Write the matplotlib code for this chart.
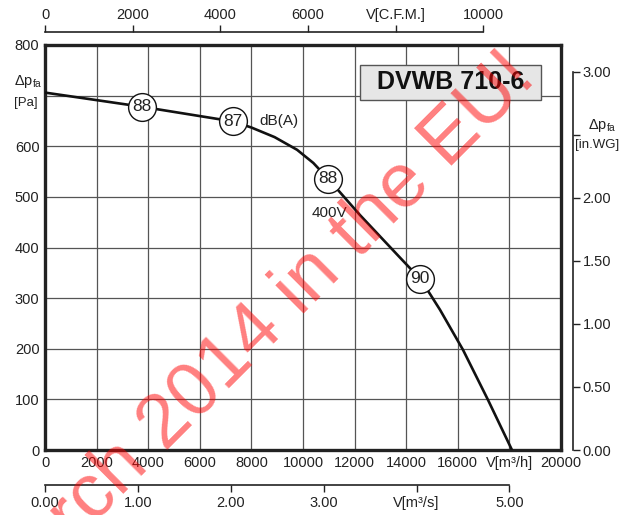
"""
Fan curve DVWB 710-6: pressure vs. air flow with noise levels
"""

import matplotlib
matplotlib.use("Agg")
import matplotlib.pyplot as plt
from matplotlib.patches import Rectangle

plt.rcParams["font.family"] = ["Liberation Sans", "DejaVu Sans"]
plt.rcParams["mathtext.fontset"] = "custom"
plt.rcParams["mathtext.rm"] = "Liberation Sans"
plt.rcParams["mathtext.it"] = "Liberation Sans:italic"

TXT = "#222222"

# fan curve, V [m3/h] vs dp_fa [Pa]
flow = [0, 3760, 7290, 8000, 8900, 9770, 10400, 10970, 12210, 13760, 14540, 14900, 15310, 16200, 17170, 18100]
pressure = [706, 678, 649, 637, 618, 593, 567, 536, 464, 380, 338, 310, 277, 198, 99, 0]

# noise markers dB(A)
noise_flow = [3760, 7290, 10970, 14540]
noise_pressure = [678, 649, 536, 338]
noise_db = [88, 87, 88, 90]

x_ticks = list(range(0, 20001, 2000))
x_labels = ["0", "2000", "4000", "6000", "8000", "10000", "12000", "14000", "16000", "V[m³/h]", "20000"]
y_ticks = list(range(0, 801, 100))
y_labels = ["0", "100", "200", "300", "400", "500", "600", "", "800"]

cfm_ticks = [0, 2000, 4000, 6000, 8000, 10000]
cfm_labels = ["0", "2000", "4000", "6000", "V[C.F.M.]", "10000"]
ms_ticks = [0, 1, 2, 3, 4, 5]
ms_labels = ["0.00", "1.00", "2.00", "3.00", "V[m³/s]", "5.00"]
wg_ticks = [0, 0.5, 1.0, 1.5, 2.0, 2.5, 3.0]
wg_labels = ["0.00", "0.50", "1.00", "1.50", "2.00", "", "3.00"]

M3H_PER_CFM = 1.699
M3H_PER_M3S = 3600
PA_PER_INWG = 249.09

W, H = 627, 515
fig = plt.figure(figsize=(W / 100, H / 100), dpi=100)

L, R, T, B = 45, 561, 45, 450
ax = fig.add_axes([L / W, 1 - B / H, (R - L) / W, (B - T) / H])
ax.set_xlim(0, 20000)
ax.set_ylim(0, 800)
ax.set_xticks(x_ticks, x_labels)
ax.set_yticks(y_ticks, y_labels)
ax.tick_params(length=0, labelsize=10.5, labelcolor=TXT, pad=4)
ax.grid(color="#555555", lw=0.9)
ax.set_axisbelow(True)
for s in ax.spines.values():
    s.set_linewidth(2.4)
    s.set_color(TXT)

ax.plot(flow, pressure, color="#111111", lw=1.9, zorder=3)
ax.plot(noise_flow, noise_pressure, "o", ms=20, mfc="white", mec="#111111", mew=1.0, zorder=4)
for fx, fy, db in zip(noise_flow, noise_pressure, noise_db):
    ax.text(fx, fy, str(db), ha="center", va="center", fontsize=12.5, color=TXT, zorder=5)
ax.text(8300, 649, "dB(A)", ha="left", va="center", fontsize=11, color=TXT, zorder=5)
ax.text(10350, 468, "400V", ha="left", va="center", fontsize=11, color=TXT, zorder=5)

# model box
ax.add_patch(Rectangle((12200, 691), 7030, 69, fc="#e6e6e6", ec="#555555", lw=1.0, zorder=4))
ax.text(15715, 726, "DVWB 710-6", ha="center", va="center", fontsize=18, fontweight="bold",
        color="#111111", zorder=5)

# left unit label
fig.text(14 / W, 1 - 82 / H, r"$\Delta$p$_{\mathrm{fa}}$", ha="left", va="center", fontsize=10.5, color=TXT)
fig.text(14 / W, 1 - 103 / H, "[Pa]", ha="left", va="center", fontsize=9.5, color=TXT)

# top C.F.M. scale
ax_cfm = fig.add_axes([L / W, 1 - 33 / H, (R - L) / W, 1 / H])
ax_cfm.set_xlim(0, 20000 / M3H_PER_CFM)
ax_cfm.patch.set_visible(False)
for k in ["left", "right", "bottom"]:
    ax_cfm.spines[k].set_visible(False)
ax_cfm.spines["top"].set_bounds(0, 10000)
ax_cfm.spines["top"].set_linewidth(1.2)
ax_cfm.spines["top"].set_color(TXT)
ax_cfm.set_yticks([])
ax_cfm.xaxis.tick_top()
ax_cfm.set_xticks(cfm_ticks, cfm_labels)
ax_cfm.tick_params(direction="out", length=5, width=1.0, color=TXT, labelsize=10.5, labelcolor=TXT, pad=2)

# bottom m3/s scale
ax_ms = fig.add_axes([L / W, 1 - 485 / H, (R - L) / W, 1 / H])
ax_ms.set_xlim(0, 20000 / M3H_PER_M3S)
ax_ms.patch.set_visible(False)
for k in ["left", "right", "top"]:
    ax_ms.spines[k].set_visible(False)
ax_ms.spines["bottom"].set_bounds(0, 5)
ax_ms.spines["bottom"].set_linewidth(1.2)
ax_ms.spines["bottom"].set_color(TXT)
ax_ms.set_yticks([])
ax_ms.set_xticks(ms_ticks, ms_labels)
ax_ms.tick_params(direction="out", length=5, width=1.0, color=TXT, labelsize=10.5, labelcolor=TXT, pad=3)

# right in.WG scale
ax_wg = fig.add_axes([L / W, 1 - B / H, (573 - L) / W, (B - T) / H])
ax_wg.set_ylim(0, 800 / PA_PER_INWG)
ax_wg.patch.set_visible(False)
for k in ["left", "top", "bottom"]:
    ax_wg.spines[k].set_visible(False)
ax_wg.spines["right"].set_bounds(0, 3)
ax_wg.spines["right"].set_linewidth(1.2)
ax_wg.spines["right"].set_color(TXT)
ax_wg.set_xticks([])
ax_wg.yaxis.tick_right()
ax_wg.set_yticks(wg_ticks, wg_labels)
ax_wg.tick_params(direction="out", length=5, width=1.0, color=TXT, labelsize=10.5, labelcolor=TXT, pad=2)

fig.text(588 / W, 1 - 126 / H, r"$\Delta$p$_{\mathrm{fa}}$", ha="left", va="center", fontsize=10.5, color=TXT)
fig.text(575 / W, 1 - 145 / H, "[in.WG]", ha="left", va="center", fontsize=9.5, color=TXT)

# watermark
fig.text(538 / W, 1 - 80 / H, "March 2014 in the EU!", rotation=45, rotation_mode="anchor",
         ha="right", va="baseline", fontsize=55, color="red", alpha=0.5, zorder=10)

fig.savefig("out.png", dpi=100)
